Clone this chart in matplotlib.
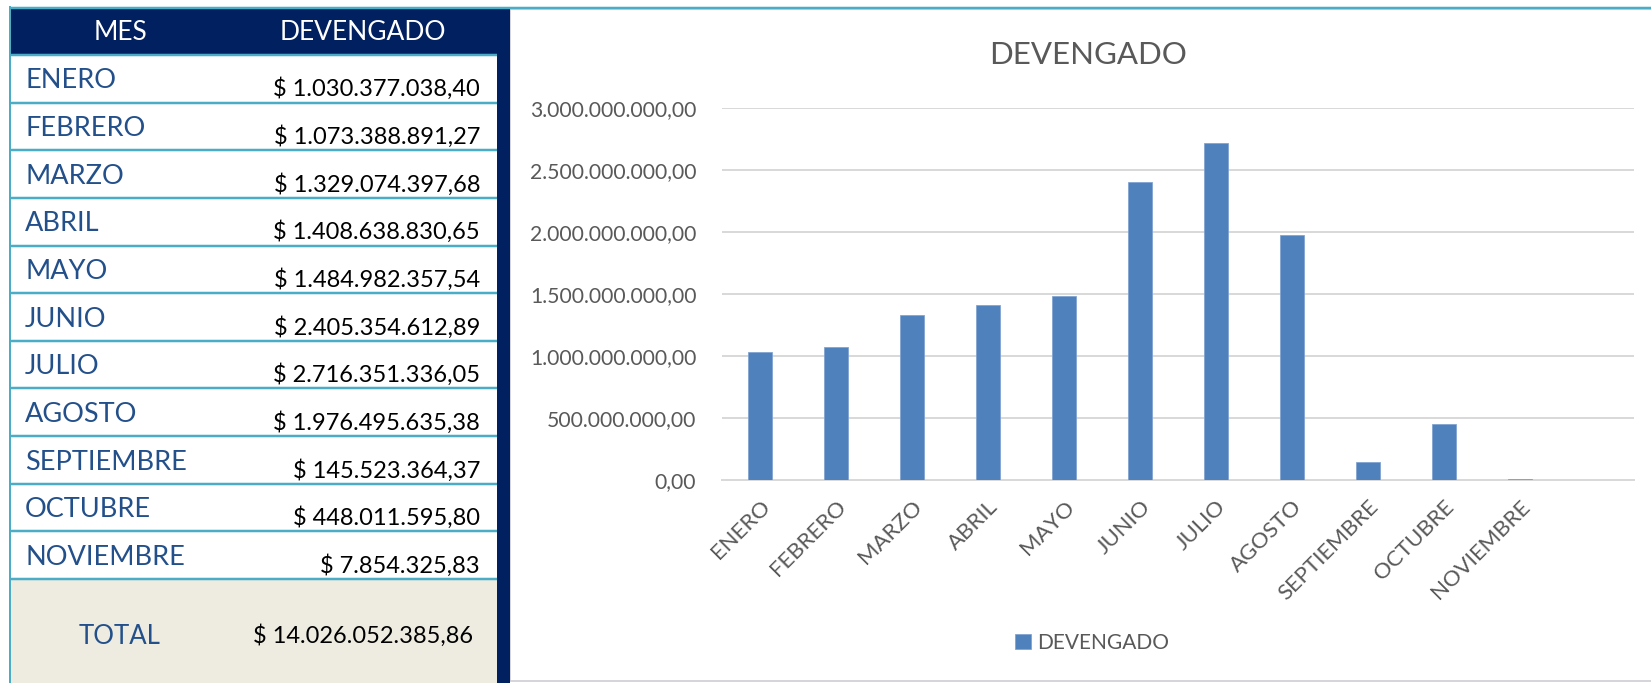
import matplotlib
matplotlib.use("Agg")
import matplotlib.pyplot as plt
from matplotlib.patches import Rectangle
from matplotlib.ticker import FuncFormatter

plt.rcParams['font.family'] = ['Lato', 'DejaVu Sans']

# ---- data ----
months = ["ENERO", "FEBRERO", "MARZO", "ABRIL", "MAYO", "JUNIO", "JULIO",
          "AGOSTO", "SEPTIEMBRE", "OCTUBRE", "NOVIEMBRE"]
devengado = [1030377038.40, 1073388891.27, 1329074397.68, 1408638830.65,
             1484982357.54, 2405354612.89, 2716351336.05, 1976495635.38,
             145523364.37, 448011595.80, 7854325.83]
header = ["MES", "DEVENGADO"]
total_label = "TOTAL"
series_name = "DEVENGADO"
chart_title = "DEVENGADO"
n_slots = 12  # chart reserves a slot for an empty 12th category
y_ticks = [0, 500e6, 1000e6, 1500e6, 2000e6, 2500e6, 3000e6]


def fmt(v):
    s = f"{v:,.2f}"
    return s.replace(",", "X").replace(".", ",").replace("X", ".")


W, H = 1651, 683
DPI = 100
fig = plt.figure(figsize=(W / DPI, H / DPI), dpi=DPI)
fig.patch.set_facecolor("white")

PX = 72 / DPI  # points per pixel

NAVY = "#002060"
TEAL = "#4BACC6"
BEIGE = "#EEECE1"
MONTH_C = "#23508A"
GRAY_T = "#595959"
BAR_C = "#4F81BD"

# background axes in pixel coordinates
bg = fig.add_axes([0, 0, 1, 1])
bg.set_xlim(0, W)
bg.set_ylim(H, 0)
bg.axis("off")

# chart panel
bg.add_patch(Rectangle((510, 9), W - 510 + 5, 672, facecolor="white",
                       edgecolor="#C8C8D0", lw=1.5 * PX, zorder=1))
# navy header + right column
bg.add_patch(Rectangle((10, 9), 500, 46, facecolor=NAVY, edgecolor="none", zorder=2))
bg.add_patch(Rectangle((497, 9), 13, H - 9, facecolor=NAVY, edgecolor="none", zorder=2))

row_top = 55
row_h = (579 - 55) / len(months)
# white rows
bg.add_patch(Rectangle((10, row_top), 487, row_h * len(months), facecolor="white",
                       edgecolor="none", zorder=2))
# total area
bg.add_patch(Rectangle((10, 579), 487, H - 579, facecolor=BEIGE, edgecolor="none", zorder=2))

# teal lines
bg.plot([10, W], [7.5, 7.5], color=TEAL, lw=2.5 * PX, zorder=3, solid_capstyle="butt")
bg.plot([9.5, 9.5], [7, H], color=TEAL, lw=2 * PX, zorder=3)
for i in range(len(months) + 1):
    y = row_top + i * row_h
    bg.plot([10, 497], [y, y], color=TEAL, lw=2.5 * PX, zorder=3, solid_capstyle="butt")

# header text
bg.text(121, 32, header[0], color="white", fontsize=19, ha="center", va="center", zorder=4)
bg.text(363, 32, header[1], color="white", fontsize=19, ha="center", va="center", zorder=4)

for i, (m, v) in enumerate(zip(months, devengado)):
    top = row_top + i * row_h
    bg.text(25, top + 26, m, color=MONTH_C, fontsize=19.5, ha="left", va="center", zorder=4)
    bg.text(480, top + 34, "$ " + fmt(v), color="black", fontsize=17,
            ha="right", va="center", zorder=4)

total = round(sum(devengado), 2)
bg.text(120, 636, total_label, color=MONTH_C, fontsize=18.5, ha="center", va="center", zorder=4)
bg.text(473, 636, "$ " + fmt(total), color="black", fontsize=17,
        ha="right", va="center", zorder=4)

# chart title
bg.text(1088, 55, chart_title, color=GRAY_T, fontsize=22.5, ha="center", va="center", zorder=4)

# ---- bar chart ----
L, R, T, B = 722, 1634, 108.3, 480
ax = fig.add_axes([L / W, (H - B) / H, (R - L) / W, (B - T) / H])
ax.set_facecolor("none")
x = list(range(len(months)))
bars = ax.bar(x, devengado, width=0.31, color=BAR_C, edgecolor="#7FA3D0",
              lw=0.8 * PX, label=series_name, zorder=3)
ax.set_xlim(-0.5, n_slots - 0.5)
ax.set_ylim(0, 3000e6)
ax.set_yticks(y_ticks)
ax.yaxis.set_major_formatter(FuncFormatter(lambda v, p: fmt(v)))
ax.yaxis.grid(True, color="#D9D9D9", lw=2 * PX, zorder=0)
ax.set_axisbelow(True)
for s in ["top", "right", "left"]:
    ax.spines[s].set_visible(False)
ax.spines["bottom"].set_color("#D9D9D9")
ax.spines["bottom"].set_linewidth(2 * PX)
ax.tick_params(axis="y", length=0, pad=18.5, labelsize=15.2, labelcolor=GRAY_T)
ax.set_xticks(x)
ax.set_xticklabels(months, rotation=45, ha="right", va="top",
                   rotation_mode="anchor", fontsize=16, color=GRAY_T)
ax.tick_params(axis="x", length=0, pad=12)

leg = ax.legend(loc="center", bbox_to_anchor=(1092 / W, (H - 643) / H),
                bbox_transform=fig.transFigure, frameon=False, fontsize=15,
                handlelength=0.75, handleheight=0.75, handletextpad=0.3)
for t in leg.get_texts():
    t.set_color(GRAY_T)

fig.savefig("out.png", dpi=DPI)
